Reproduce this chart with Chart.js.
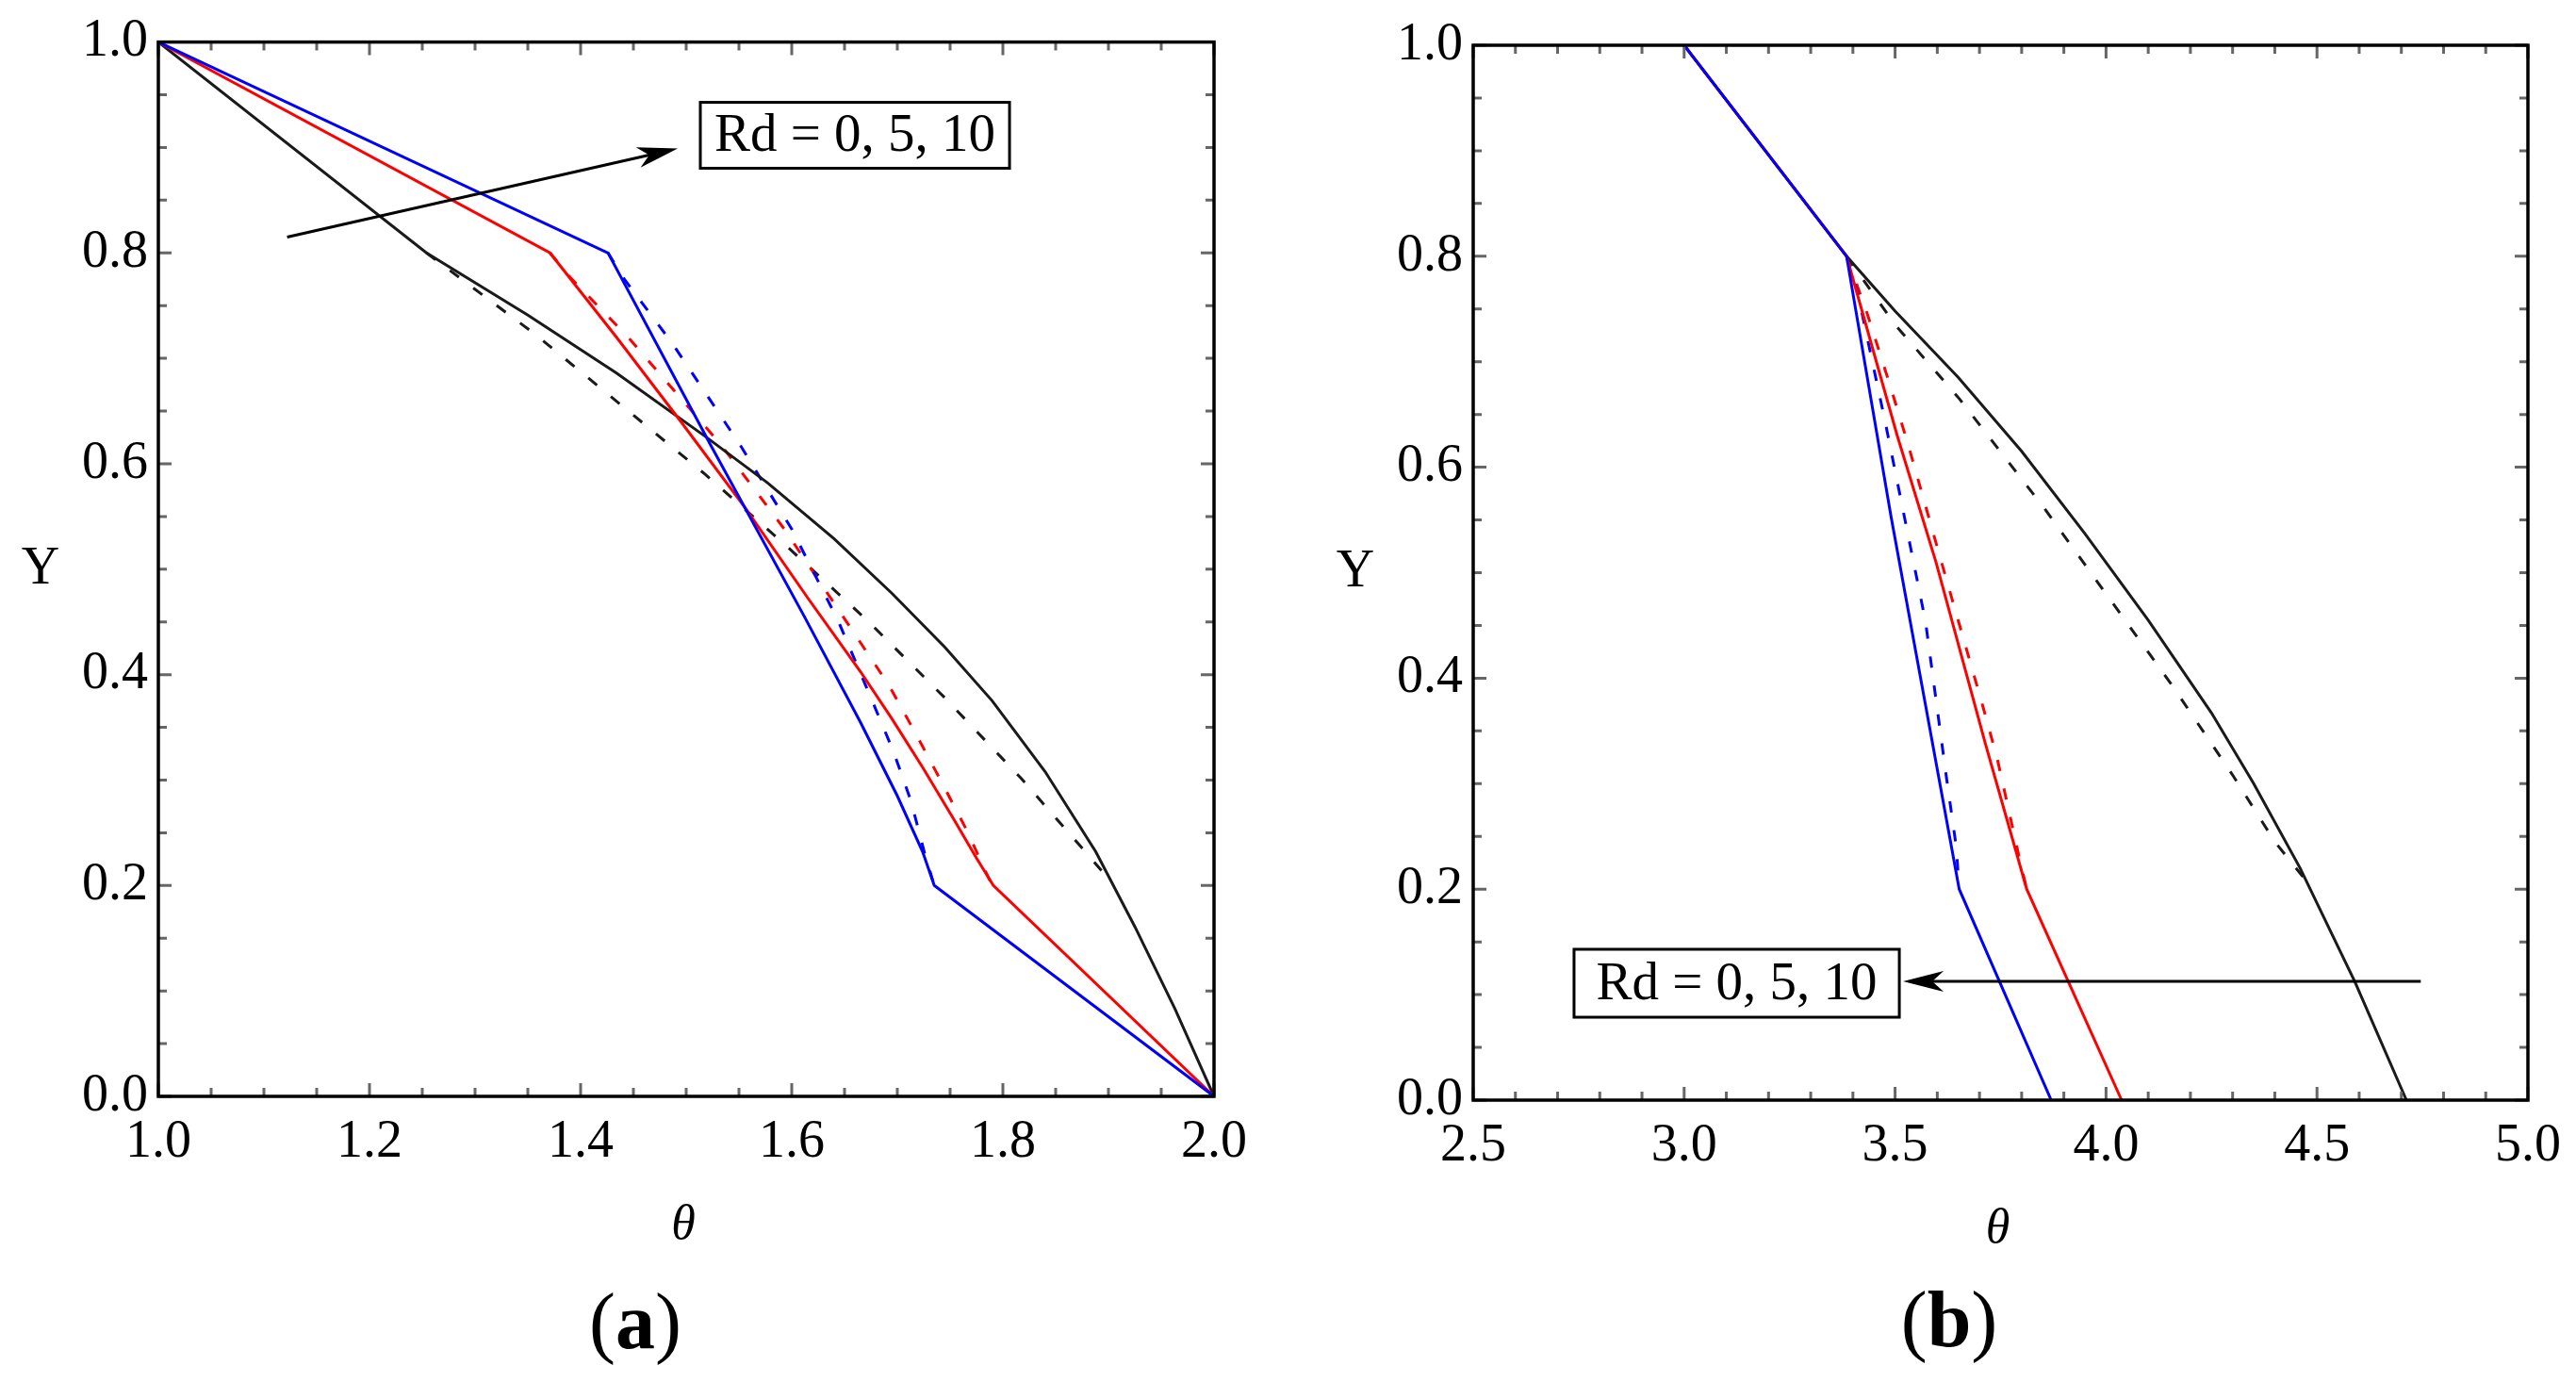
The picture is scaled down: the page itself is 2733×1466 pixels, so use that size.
<!DOCTYPE html>
<html>
<head>
<meta charset="utf-8">
<script src="https://cdn.jsdelivr.net/npm/chart.js@4.4.1/dist/chart.umd.min.js"></script>
<style>
  html, body { margin: 0; padding: 0; background: #fff; }
  body { width: 2733px; height: 1466px; position: relative; overflow: hidden; font-family: "Liberation Serif", "DejaVu Serif", serif; }
  canvas { position: absolute; top: 0; }
  #chartA { left: 0; }
  #chartB { left: 1366px; }
  .caption { position: absolute; width: 300px; text-align: center; font-size: 84px; line-height: 1; color: #000; }
</style>
</head>
<body>
<canvas id="chartA" width="1366" height="1466"></canvas>
<canvas id="chartB" width="1367" height="1466"></canvas>
<div class="caption" style="left:524px; top:1360px">(<b>a</b>)</div>
<div class="caption" style="left:1918px; top:1358px">(<b>b</b>)</div>
<script>
// tick labels
const yTicks = [0.0, 0.2, 0.4, 0.6, 0.8, 1.0];
const aXTicks = [1.0, 1.2, 1.4, 1.6, 1.8, 2.0];
const bXTicks = [2.5, 3.0, 3.5, 4.0, 4.5, 5.0];

// panel (a): [theta, Y]
const aBlackSolid = [[1.0,1.0],[1.254,0.8],[1.35,0.741],[1.434,0.686],[1.518,0.626],[1.577,0.582],[1.64,0.529],[1.695,0.477],[1.745,0.426],[1.79,0.375],[1.84,0.308],[1.888,0.232],[1.925,0.161],[1.963,0.083],[2.0,0.0]];
const aBlackDashed = [[1.254,0.8],[1.358,0.722],[1.438,0.656],[1.518,0.590],[1.594,0.523],[1.672,0.451],[1.745,0.378],[1.817,0.302],[1.885,0.224],[1.902,0.204]];
const aRedSolid = [[1.0,1.0],[1.371,0.8],[1.434,0.72],[1.495,0.64],[1.556,0.558],[1.615,0.473],[1.665,0.403],[1.695,0.358],[1.724,0.312],[1.754,0.262],[1.775,0.226],[1.791,0.2],[2.0,0.0]];
const aRedDashed = [[1.371,0.8],[1.39,0.777],[1.445,0.72],[1.533,0.618],[1.593,0.538],[1.65,0.453],[1.692,0.39],[1.718,0.343],[1.742,0.298],[1.766,0.252],[1.787,0.206],[1.791,0.2]];
const aBlueSolid = [[1.0,1.0],[1.426,0.8],[1.523,0.618],[1.612,0.455],[1.665,0.355],[1.70,0.285],[1.724,0.232],[1.735,0.2],[2.0,0.0]];
const aBlueDashed = [[1.426,0.8],[1.44,0.777],[1.487,0.714],[1.551,0.618],[1.600,0.538],[1.644,0.451],[1.675,0.378],[1.696,0.328],[1.713,0.28],[1.726,0.23],[1.735,0.2]];

// panel (b): [theta, Y]
const bBlackSolid = [[3.0,1.0],[3.385,0.8],[3.50,0.748],[3.65,0.685],[3.80,0.615],[3.95,0.537],[4.10,0.455],[4.25,0.367],[4.35,0.30],[4.46,0.22],[4.59,0.112],[4.712,0.0]];
const bBlackDashed = [[3.385,0.8],[3.50,0.735],[3.652,0.665],[3.852,0.562],[4.007,0.476],[4.157,0.393],[4.302,0.307],[4.40,0.245],[4.48,0.205]];
const bRedSolid = [[3.0,1.0],[3.385,0.8],[3.505,0.63],[3.597,0.51],[3.714,0.338],[3.812,0.2],[4.037,0.0]];
const bRedDashed = [[3.385,0.8],[3.432,0.748],[3.487,0.679],[3.532,0.62],[3.622,0.493],[3.702,0.382],[3.742,0.324],[3.797,0.225],[3.812,0.2]];
const bBlueSolid = [[3.0,1.0],[3.385,0.8],[3.49,0.554],[3.652,0.2],[3.87,0.0]];
const bBlueDashed = [[3.385,0.8],[3.412,0.764],[3.477,0.642],[3.572,0.454],[3.622,0.305],[3.645,0.24],[3.652,0.2]];

const labelText = "Rd = 0, 5, 10";
const FONT = '"Liberation Serif", "Times New Roman", serif';

function toPoints(arr) {
  return arr.map(p => ({ x: p[0], y: p[1] }));
}

function line(data, color, dashed) {
  return {
    data: toPoints(data),
    showLine: true,
    borderColor: color,
    borderWidth: 3,
    borderDash: dashed ? [12, 19] : [],
    pointRadius: 0,
    tension: 0,
    fill: false
  };
}

// frame, inward ticks on all four sides, axis titles, box + arrow
const frameTicks = {
  id: 'frameTicks',
  afterDatasetsDraw(chart, args, opts) {
    const { ctx, chartArea: a, scales: { x, y } } = chart;
    ctx.save();

    function marks(ticks, divs) {
      let out = [];
      for (let i = 0; i < ticks.length - 1; i++) {
        let step = (ticks[i + 1] - ticks[i]) / divs;
        for (let j = 0; j < divs; j++) out.push({ v: ticks[i] + j * step, major: j === 0 });
      }
      out.push({ v: ticks[ticks.length - 1], major: true });
      return out;
    }

    ctx.strokeStyle = '#666';
    ctx.lineWidth = 3;
    ctx.beginPath();
    marks(opts.xTicks, opts.xDivs).forEach(m => {
      let px = x.getPixelForValue(m.v);
      let len = m.major ? 14 : 9;
      ctx.moveTo(px, a.bottom); ctx.lineTo(px, a.bottom - len);
      ctx.moveTo(px, a.top); ctx.lineTo(px, a.top + len);
    });
    marks(opts.yTicks, opts.yDivs).forEach(m => {
      let py = y.getPixelForValue(m.v);
      let len = m.major ? 14 : 9;
      ctx.moveTo(a.left, py); ctx.lineTo(a.left + len, py);
      ctx.moveTo(a.right, py); ctx.lineTo(a.right - len, py);
    });
    ctx.stroke();

    ctx.strokeStyle = '#000';
    ctx.lineWidth = 3.5;
    ctx.strokeRect(a.left, a.top, a.right - a.left, a.bottom - a.top);

    // axis titles
    ctx.fillStyle = '#000';
    ctx.textAlign = 'center';
    ctx.textBaseline = 'middle';
    ctx.font = '56px ' + FONT;
    ctx.fillText('Y', a.left - 125, (a.top + a.bottom) / 2);
    ctx.font = 'italic 52px ' + FONT;
    ctx.fillText('θ', (a.left + a.right) / 2 - 3, a.bottom + 137);

    // label box
    let b = opts.box;
    let bx0 = x.getPixelForValue(b.x0), bx1 = x.getPixelForValue(b.x1);
    let by0 = y.getPixelForValue(b.y0), by1 = y.getPixelForValue(b.y1);
    ctx.fillStyle = '#fff';
    ctx.fillRect(bx0, by0, bx1 - bx0, by1 - by0);
    ctx.lineWidth = 3;
    ctx.strokeRect(bx0, by0, bx1 - bx0, by1 - by0);
    ctx.fillStyle = '#000';
    ctx.font = '57px ' + FONT;
    ctx.fillText(labelText, (bx0 + bx1) / 2, (by0 + by1) / 2 + 2);

    // arrow
    let ar = opts.arrow;
    let x1 = x.getPixelForValue(ar.from[0]), y1 = y.getPixelForValue(ar.from[1]);
    let x2 = x.getPixelForValue(ar.to[0]), y2 = y.getPixelForValue(ar.to[1]);
    let ang = Math.atan2(y2 - y1, x2 - x1);
    let L = 43, W = 11;
    let ux = Math.cos(ang), uy = Math.sin(ang);
    ctx.lineWidth = 3;
    ctx.beginPath();
    ctx.moveTo(x1, y1);
    ctx.lineTo(x2 - ux * L * 0.7, y2 - uy * L * 0.7);
    ctx.stroke();
    ctx.beginPath();
    ctx.moveTo(x2, y2);
    ctx.lineTo(x2 - ux * L - uy * W, y2 - uy * L + ux * W);
    ctx.lineTo(x2 - ux * L * 0.72, y2 - uy * L * 0.72);
    ctx.lineTo(x2 - ux * L + uy * W, y2 - uy * L - ux * W);
    ctx.closePath();
    ctx.fill();

    ctx.restore();
  }
};

function makeChart(id, xMin, xMax, xTicks, xDivs, pad, sets, box, arrow) {
  const canvas = document.getElementById(id);
  const H = canvas.height;
  return new Chart(canvas.getContext('2d'), {
    type: 'scatter',
    data: { datasets: sets },
    options: {
      responsive: false,
      animation: false,
      devicePixelRatio: 1,
      layout: { padding: { left: 0, right: pad.right, top: pad.top, bottom: 0 } },
      scales: {
        x: {
          type: 'linear', min: xMin, max: xMax,
          afterBuildTicks: s => { s.ticks = xTicks.map(v => ({ value: v })); },
          afterFit: s => { s.height = H - pad.bottom; },
          grid: { display: false, drawTicks: false },
          border: { display: false },
          ticks: {
            callback: v => v.toFixed(1),
            font: { family: FONT, size: 56 },
            color: '#000', padding: 16, maxRotation: 0, autoSkip: false
          }
        },
        y: {
          type: 'linear', min: 0, max: 1,
          afterBuildTicks: s => { s.ticks = yTicks.map(v => ({ value: v })); },
          afterFit: s => { s.width = pad.left; },
          grid: { display: false, drawTicks: false },
          border: { display: false },
          ticks: {
            callback: v => v.toFixed(1),
            font: { family: FONT, size: 56 },
            color: '#000', padding: 11, autoSkip: false
          }
        }
      },
      plugins: {
        legend: { display: false },
        tooltip: { enabled: false },
        frameTicks: { xTicks: xTicks, xDivs: xDivs, yTicks: yTicks, yDivs: 4, box: box, arrow: arrow }
      }
    },
    plugins: [frameTicks]
  });
}

makeChart('chartA', 1, 2, aXTicks, 4,
  { left: 168, right: 1366 - 1288, top: 44, bottom: 1163 },
  [
    line(aBlueSolid, '#0000ff', false),
    line(aRedSolid, '#ff0000', false),
    line(aBlackSolid, '#1a1a1a', false),
    line(aBlueDashed, '#0000ff', true),
    line(aRedDashed, '#ff0000', true),
    line(aBlackDashed, '#1a1a1a', true)
  ],
  { x0: 1.5134, x1: 1.8063, y0: 0.9428, y1: 0.8803 },
  { from: [1.122, 0.815], to: [1.492, 0.899] }
);

makeChart('chartB', 2.5, 5.0, bXTicks, 5,
  { left: 1563 - 1366, right: 1367 - (2682 - 1366), top: 48, bottom: 1167 },
  [
    line(bBlueSolid, '#0000ff', false),
    line(bRedSolid, '#ff0000', false),
    line(bBlackSolid, '#1a1a1a', false),
    line(bBlueDashed, '#0000ff', true),
    line(bRedDashed, '#ff0000', true),
    line(bBlackDashed, '#1a1a1a', true)
  ],
  { x0: 2.739, x1: 3.510, y0: 0.143, y1: 0.0786 },
  { from: [4.746, 0.1126], to: [3.519, 0.1126] }
);
</script>
</body>
</html>
